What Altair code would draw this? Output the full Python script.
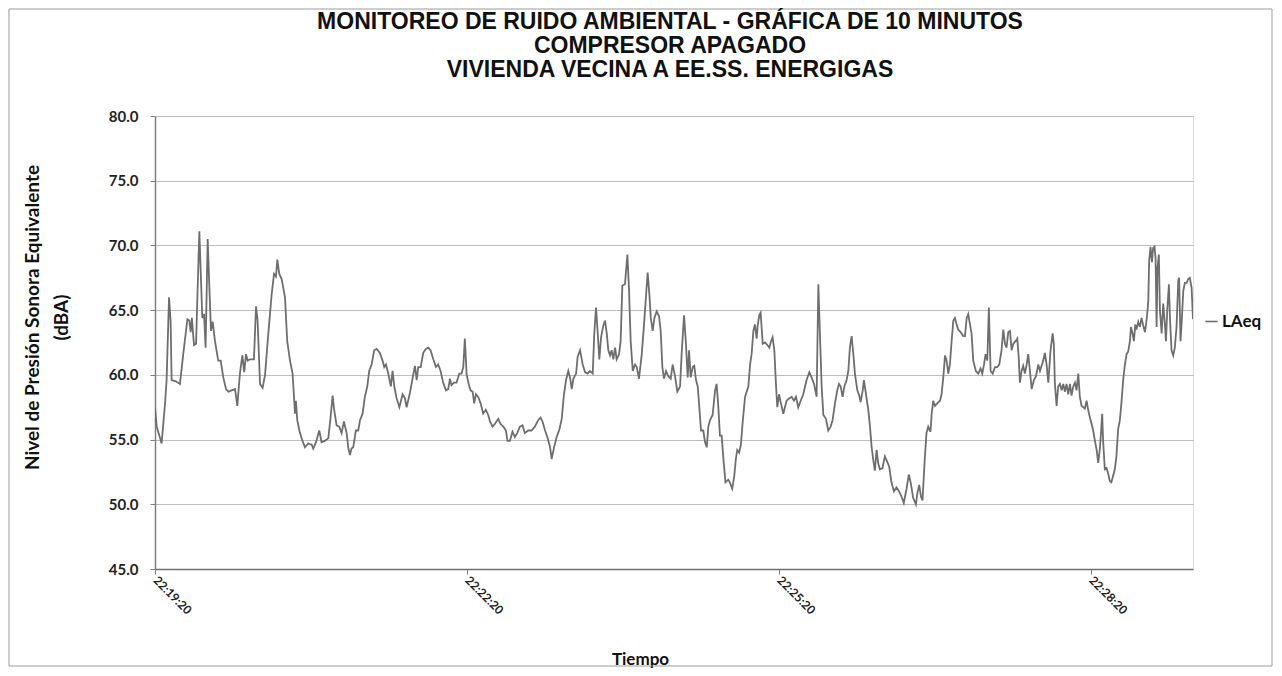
import altair as alt
import pandas as pd

# Seconds after 22:19:20 and LAeq readings (dBA)
seconds = [
    0, 1.0, 3.8, 5.8, 6.7, 8.1, 9.0, 9.6, 12.0, 14.4, 16.3, 18.7, 19.8, 20.6, 21.3, 22.5, 23.7, 24.4, 25.6, 26.3,
    27.3, 28.3, 29.2, 30.4, 31.3, 32.3, 33.3, 34.6, 36.5, 37.9, 39.4, 41.0, 42.3, 44.2, 46.2, 47.5, 49.0, 50.4, 51.5, 52.5,
    53.5, 54.8, 57.1, 58.3, 59.2, 60.6, 62.1, 63.5, 65.4, 67.3, 68.7, 69.8, 70.6, 71.7, 73.1,
    75.0, 76.3, 77.9, 79.4, 80.8, 81.3, 82.1, 83.3, 84.6, 86.5, 88.4, 90.4, 91.3, 92.9, 94.8, 96.1, 98.0, 100.0, 101.3, 102.5,
    103.4, 104.8, 106.3, 107.7, 109.0, 110.6, 111.5, 112.5, 113.4, 114.4, 115.9, 117.3, 118.3, 119.8, 121.1, 122.5, 123.6, 125.0, 126.5, 127.9,
    129.8, 131.3, 132.3, 133.3, 134.6, 136.1, 137.1, 138.1, 139.4, 141.0, 142.9, 144.2, 145.2, 147.1, 149.0,
    150.0, 151.0, 151.9, 153.3, 154.8, 156.3, 157.7, 159.0, 160.6, 162.1, 163.4, 164.8, 166.3, 167.9, 169.2, 170.2, 171.1, 172.5, 174.0, 175.6,
    176.9, 177.9, 178.8, 179.8, 180.8, 182.1, 183.3, 184.2, 185.2, 186.5, 187.9, 189.4, 190.9, 192.3, 193.3, 194.8, 196.1, 198.1, 199.4, 201.0,
    202.5, 203.4, 204.8, 206.3, 207.7, 209.0, 210.6, 212.1, 213.4, 215.4, 217.3, 219.2, 221.1, 222.5, 223.6,
    225.1, 226.4, 228.0, 228.9, 230.3, 231.8, 233.4, 234.7, 236.0, 237.2, 238.5, 239.5, 240.5, 241.4, 243.0, 243.9, 245.3, 246.8, 248.2, 249.7,
    251.0, 252.6, 253.5, 254.5, 255.5, 256.4, 257.4, 258.7, 259.7, 260.7, 261.6, 262.6, 263.5, 264.5, 265.5, 266.4, 267.8, 268.7, 269.7, 271.2,
    272.6, 273.5, 274.5, 275.7, 277.0, 278.0, 279.3, 280.9, 282.2, 283.4, 284.3, 285.3, 286.1, 287.2, 288.2, 289.5, 290.9, 291.8, 292.8, 293.7,
    294.9, 296.2, 297.6, 298.7,
    300.1, 301.4, 303.0, 303.9, 305.3, 306.4, 307.4, 308.2, 309.1, 310.3, 311.2, 312.2, 313.2, 314.1, 315.1, 316.4, 317.4, 318.4, 319.3, 320.3,
    321.8, 323.2, 324.1, 325.1, 326.0, 327.0, 327.9, 329.2, 330.8, 331.7, 333.1, 334.2, 335.2, 336.0, 337.1, 338.1, 339.1, 340.5, 342.4, 343.4,
    344.3, 345.3, 346.2, 347.2, 347.8, 348.7, 349.5, 350.7, 352.0, 353.4, 354.5, 355.5, 356.4, 357.4, 358.4, 359.1, 360.1, 361.2, 362.6, 363.5,
    364.5, 366.0, 367.4, 368.7, 369.9, 371.2, 372.6, 374.1,
    376.0, 377.6, 378.9, 380.3, 381.8, 382.8, 383.7, 384.7, 385.7, 387.2, 388.5, 389.9, 391.0, 392.4, 393.7, 394.7, 395.7, 396.8, 397.8, 399.1,
    400.1, 401.0, 402.0, 403.0, 403.9, 405.3, 406.4, 407.2, 408.4, 409.1, 410.3, 411.6, 412.6, 413.5, 414.4, 415.4, 416.4, 417.3, 418.3, 419.8,
    421.2, 422.5, 423.7, 425.0, 426.4, 427.9, 429.4, 430.8, 432.1, 433.7, 435.0, 436.2, 437.5, 439.1, 440.0, 441.0, 442.0, 442.9, 444.2, 445.2,
    446.2, 447.5,
    448.2, 449.1, 450.1, 451.4, 453.0, 453.9, 454.9, 455.9, 456.8, 457.8, 458.7, 459.7, 460.7, 461.6, 462.6, 463.5, 464.9, 466.4, 467.4, 468.4,
    469.3, 470.3, 471.2, 472.2, 473.7, 475.1, 476.4, 477.4, 478.4, 479.3, 480.3, 481.2, 482.2, 483.4, 484.7, 486.0, 487.2, 488.5, 489.5, 490.5,
    491.4, 492.4, 493.4, 494.3, 495.3, 496.6, 497.6, 498.4, 499.1, 500.1, 501.0, 502.0, 503.0, 503.9, 504.9, 505.9, 507.2, 508.4, 509.7, 510.7,
    511.6, 512.6, 513.5, 514.5, 515.5, 516.8, 518.0, 518.7, 519.3, 520.3, 521.2, 522.2, 523.2, 524.1,
    525.1, 526.0, 527.0, 528.0, 528.9, 529.9, 530.9, 531.8, 532.8, 533.7, 534.7, 535.7, 536.6, 537.6, 538.5, 539.5, 540.5, 541.4, 542.4, 543.4,
    544.3, 545.2, 545.8, 546.6, 547.1, 548.1, 549.1, 550.0, 551.0, 551.9, 552.9, 553.9, 554.8, 555.8, 556.8, 557.8, 558.7, 559.7, 560.7, 561.6,
    562.6, 563.2, 564.1, 564.9, 565.7, 566.4, 567.4, 568.4, 569.3, 570.3, 571.3, 572.2, 573.2, 573.7, 574.5, 575.3, 576.0, 576.8, 577.4, 578.0,
    578.5, 579.3, 579.9, 580.9, 581.8, 582.6, 583.4, 584.1, 585.1, 585.7, 586.6, 587.6, 588.5, 589.5, 590.5, 591.0, 591.8, 592.6, 593.4, 594.3,
    595.3, 596.2, 597.2, 598.2, 599.0,
]
laeq = [
    57.5, 56.0, 54.7, 57.8, 59.6, 66.0, 64.2, 59.6, 59.5, 59.3, 61.6, 64.3, 64.2, 63.3, 64.4, 62.3, 62.4, 65.7, 71.1, 68.3,
    64.4, 64.7, 62.1, 70.5, 67.0, 63.4, 64.1, 62.6, 61.1, 61.1, 59.8, 58.9, 58.7, 58.8, 58.9, 57.6, 60.1, 61.5, 60.2, 61.6,
    61.1, 61.2, 61.2, 65.3, 64.2, 59.3, 59.0, 60.0, 63.2, 66.2, 67.8, 67.6, 68.9, 67.8, 67.4,
    66.0, 62.6, 61.1, 60.1, 57.0, 58.0, 56.5, 55.7, 55.1, 54.4, 54.7, 54.6, 54.3, 54.8, 55.7, 54.8, 54.9, 55.1, 56.7, 58.4,
    57.3, 56.1, 56.0, 55.5, 56.4, 55.5, 54.4, 53.8, 54.3, 54.4, 55.7, 55.7, 56.5, 57.0, 58.3, 59.1, 60.3, 60.8, 61.9, 62.0,
    61.7, 61.1, 60.6, 60.8, 60.1, 59.1, 60.3, 59.1, 58.2, 57.5, 58.5, 58.2, 57.5, 58.6, 60.0,
    60.7, 59.6, 60.6, 60.6, 61.7, 62.0, 62.1, 61.9, 61.2, 60.6, 60.8, 60.3, 59.4, 58.8, 58.9, 59.7, 59.2, 59.4, 59.4, 60.1,
    60.1, 60.6, 62.8, 60.1, 59.4, 58.8, 58.7, 57.8, 58.5, 58.3, 57.8, 57.0, 57.3, 56.9, 56.4, 56.0, 56.2, 56.6, 56.2, 56.0,
    55.7, 54.9, 54.9, 55.6, 55.2, 55.5, 56.0, 56.1, 55.5, 55.7, 55.7, 56.0, 56.5, 56.7, 56.4,
    55.7, 55.2, 54.4, 53.5, 54.4, 55.2, 55.8, 56.6, 58.5, 59.6, 60.3, 59.8, 58.9, 59.7, 60.1, 61.4, 61.9, 60.8, 60.2, 60.1,
    60.3, 60.1, 63.2, 65.2, 63.2, 61.2, 62.9, 63.8, 64.2, 63.2, 61.9, 61.5, 61.9, 61.2, 62.1, 61.2, 61.6, 62.6, 66.9, 67.0,
    69.3, 66.7, 62.6, 60.3, 60.8, 60.6, 59.7, 61.6, 63.9, 66.2, 67.9, 66.2, 64.4, 63.4, 64.4, 64.9, 64.5, 63.4, 60.6, 59.7,
    60.3, 59.9, 59.7, 60.8,
    59.9, 58.7, 59.1, 61.6, 64.6, 62.4, 59.8, 61.9, 59.8, 60.6, 60.7, 59.6, 59.1, 57.5, 55.7, 55.7, 54.8, 54.4, 56.0, 56.5,
    56.9, 58.8, 59.3, 57.5, 55.3, 55.3, 53.7, 51.7, 51.9, 51.7, 51.2, 52.1, 53.5, 54.2, 54.0, 54.6, 56.3, 58.3, 59.1, 60.8,
    61.6, 63.4, 63.9, 62.8, 63.8, 64.6, 64.8, 62.4, 62.5, 62.3, 62.1, 62.6, 62.9, 61.9, 59.1, 57.5, 58.5, 57.8, 57.0, 57.5,
    58.0, 58.2, 58.3, 58.0, 58.3, 57.5, 58.0, 58.5,
    59.6, 60.2, 59.8, 59.3, 58.3, 67.0, 63.2, 59.1, 56.9, 56.6, 55.7, 56.0, 56.5, 57.8, 58.8, 59.3, 59.1, 58.3, 59.1, 59.6,
    60.3, 62.1, 63.0, 61.6, 60.1, 58.8, 58.4, 57.9, 58.8, 59.6, 58.5, 57.3, 56.0, 54.5, 53.5, 52.6, 54.2, 53.2, 52.7, 52.8,
    53.7, 53.3, 52.9, 51.7, 51.0, 51.3, 51.0, 50.6, 50.1, 51.2, 52.3, 51.6, 50.5, 50.0, 50.9, 51.5, 50.6, 50.3, 53.5, 55.5,
    56.0, 55.6,
    57.0, 58.0, 57.6, 57.8, 58.0, 58.5, 59.8, 61.5, 61.1, 60.1, 60.8, 62.6, 64.2, 64.4, 63.9, 63.5, 63.3, 63.0, 63.0, 64.4,
    64.7, 63.9, 63.2, 61.1, 60.3, 60.1, 60.5, 60.1, 60.8, 61.6, 61.1, 65.2, 60.3, 60.1, 60.6, 60.6, 60.8, 61.9, 63.5, 62.4,
    62.1, 63.3, 63.4, 61.9, 62.4, 62.6, 62.8, 61.4, 59.4, 60.3, 60.7, 60.1, 60.8, 61.6, 60.3, 58.9, 59.6, 59.9, 60.8, 60.3,
    60.7, 61.1, 61.7, 60.8, 59.4, 61.9, 63.2, 62.4, 59.3, 57.6, 59.1, 59.3, 58.8, 59.3,
    58.7, 59.3, 58.5, 59.3, 58.4, 59.1, 59.4, 58.8, 60.1, 58.3, 57.6, 57.5, 57.4, 58.0, 57.3, 56.7, 56.2, 55.7, 54.9, 54.2,
    53.2, 54.2, 55.3, 57.0, 55.0, 52.7, 52.8, 52.4, 51.8, 51.7, 52.2, 52.7, 53.7, 55.8, 56.5, 58.0, 59.6, 60.8, 61.6, 61.8,
    62.6, 63.7, 63.2, 62.6, 63.9, 63.5, 64.1, 63.7, 64.4, 63.8, 63.3, 64.2, 65.7, 68.8, 69.9, 68.7, 69.8, 69.9, 69.0, 63.7,
    68.3, 69.3, 65.0, 63.2, 65.5, 64.2, 62.6, 64.9, 67.0, 64.4, 61.9, 61.5, 62.1, 63.7, 67.3, 67.5, 62.6, 64.4, 66.5, 67.1,
    67.1, 67.4, 67.5, 66.7, 64.3,
]

series_name = "LAeq"
x_tick_seconds = [0, 180, 360, 540]
y_ticks = [45, 50, 55, 60, 65, 70, 75, 80]
title_lines = [
    "MONITOREO DE RUIDO AMBIENTAL - GRÁFICA DE 10 MINUTOS",
    "COMPRESOR APAGADO",
    "VIVIENDA VECINA A EE.SS. ENERGIGAS",
]
title_line_y = [-94, -70, -46]   # pixel placement of each title line above the plot
y_title = ["Nivel de Presión Sonora Equivalente", "(dBA)"]
x_title = "Tiempo"

df = pd.DataFrame({"t": seconds, "LAeq": laeq, "serie": series_name})

FONT = "Lato"
TITLE_FONT = "Liberation Sans"

line = alt.Chart(df).mark_line(strokeWidth=1.8, clip=True).encode(
    x=alt.X(
        "t:Q",
        scale=alt.Scale(domain=[0, 599], nice=False, zero=False),
        axis=alt.Axis(
            values=x_tick_seconds,
            labelExpr="timeFormat(datetime(2020, 0, 1, 22, 19, 20 + datum.value), '%H:%M:%S')",
            labelAngle=45,
            labelAlign="left",
            labelBaseline="middle",
            labelFont=FONT,
            labelFontWeight="bold",
            labelFontSize=12,
            labelColor="#222222",
            labelPadding=4,
            tickSize=5,
            tickColor="#808080",
            domainColor="#707070",
            domainWidth=1.5,
            grid=False,
            title=x_title,
            titleFont=FONT,
            titleFontWeight="bold",
            titleFontSize=17,
            titleColor="#111111",
            titleX=485,
            titleY=90,
            titleBaseline="middle",
        ),
    ),
    y=alt.Y(
        "LAeq:Q",
        scale=alt.Scale(domain=[45, 80], nice=False, zero=False),
        axis=alt.Axis(
            values=y_ticks,
            format=".1f",
            labelFont=FONT,
            labelFontWeight="bold",
            labelFontSize=15,
            labelColor="#222222",
            labelPadding=12,
            tickSize=5,
            tickColor="#808080",
            domainColor="#808080",
            domainWidth=1.5,
            grid=True,
            gridColor="#bdbdbd",
            gridWidth=1,
            title=y_title,
            titleFont=FONT,
            titleFontWeight="bold",
            titleFontSize=19,
            titleColor="#111111",
            titleLineHeight=29,
            titleX=-123,
            titleY=201,
            titleBaseline="middle",
            titleAlign="center",
        ),
    ),
    color=alt.Color(
        "serie:N",
        scale=alt.Scale(range=["#6e6e6e"]),
        legend=alt.Legend(
            title=None,
            orient="none",
            legendX=1048,
            legendY=197,
            symbolType="stroke",
            symbolStrokeWidth=1.6,
            symbolSize=150,
            labelFont=FONT,
            labelFontWeight="bold",
            labelFontSize=17,
            labelColor="#111111",
            labelOffset=2,
        ),
    ),
)

one_row = pd.DataFrame({"k": [0]})

frame = alt.Chart(one_row).mark_rect(
    fill=None, stroke="#9a9a9a", strokeWidth=1, clip=False
).encode(
    x=alt.value(-146), x2=alt.value(1117), y=alt.value(-107), y2=alt.value(550)
)

title_marks = [
    alt.Chart(one_row).mark_text(
        font=TITLE_FONT, fontSize=23, fontWeight="bold", align="center",
        baseline="middle", color="#111111", clip=False,
    ).encode(x=alt.value(515), y=alt.value(ty), text=alt.value(txt))
    for txt, ty in zip(title_lines, title_line_y)
]

chart = alt.layer(frame, line, *title_marks).properties(
    width=1038,
    height=453,
    autosize=alt.AutoSizeParams(type="none"),
    padding={"left": 147, "top": 108, "right": 81, "bottom": 99},
).configure_view(stroke="#a8a8a8", strokeWidth=1).configure(background="white")

chart.save("out.html", embed_options={"renderer": "svg", "actions": False})
